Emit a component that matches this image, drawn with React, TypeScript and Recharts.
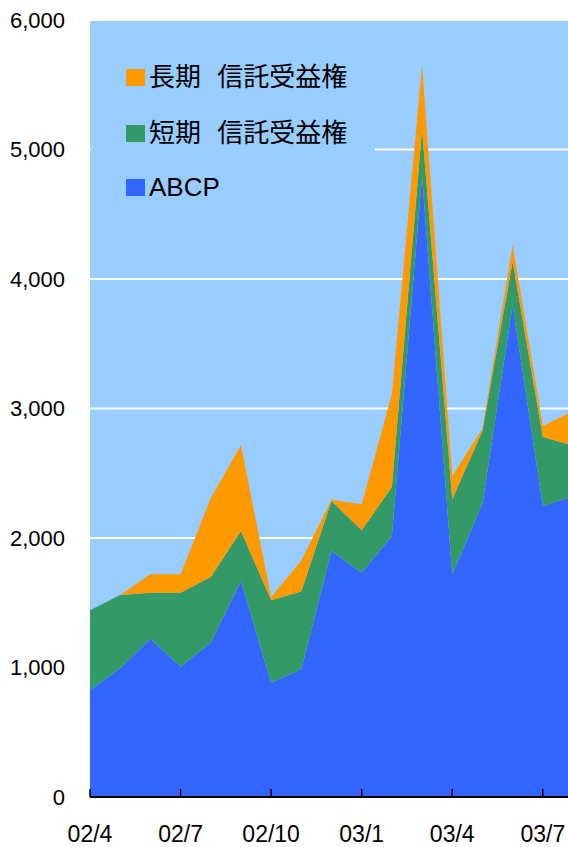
import { AreaChart, Area, XAxis, YAxis, CartesianGrid } from "recharts";

// monthly outstanding balances, 02/4 through 03/8
const months = [
  "02/4", "02/5", "02/6", "02/7", "02/8", "02/9", "02/10", "02/11", "02/12",
  "03/1", "03/2", "03/3", "03/4", "03/5", "03/6", "03/7", "03/8",
];
const abcp = [824, 994, 1222, 1006, 1192, 1668, 883, 986, 1900, 1732, 2015, 4795, 1720, 2265, 3799, 2245, 2322];
const shortTrust = [618, 566, 356, 572, 507, 386, 636, 600, 386, 327, 379, 361, 579, 561, 335, 535, 391];
const longTrust = [0, 0, 142, 142, 608, 664, 25, 240, 10, 201, 716, 497, 180, 20, 129, 85, 268];
const yTicks = [0, 1000, 2000, 3000, 4000, 5000, 6000];

const ORANGE = "#FF9900";
const GREEN = "#339966";
const BLUE = "#3366FF";
const PLOT_BG = "#99CCFF";

const legendItems = [
  { label: "長期 信託受益権", color: ORANGE, top: 62 },
  { label: "短期 信託受益権", color: GREEN, top: 118 },
  { label: "ABCP", color: BLUE, top: 172 },
];

const data = months.map((month, i) => ({
  month,
  abcp: abcp[i],
  short: shortTrust[i],
  long: longTrust[i],
}));

const axisFont = "'Liberation Sans', Arial, sans-serif";

export default function App() {
  return (
    <div
      style={{
        position: "absolute",
        left: 0,
        top: 0,
        width: 568,
        height: 847,
        overflow: "hidden",
        background: "#fff",
      }}
    >
      <AreaChart
        width={580}
        height={847}
        data={data}
        margin={{ top: 20, right: 7, bottom: 0, left: 0 }}
      >
        <CartesianGrid
          vertical={false}
          stroke="#fff"
          strokeWidth={2}
          fill={PLOT_BG}
          fillOpacity={1}
        />
        <XAxis
          dataKey="month"
          interval={2}
          height={50}
          tickSize={-8}
          tickMargin={37}
          axisLine={{ stroke: "#000", strokeWidth: 2 }}
          tickLine={{ stroke: "#000", strokeWidth: 1.5 }}
          tick={{ fill: "#000", fontSize: 23, fontFamily: axisFont }}
        />
        <YAxis
          width={90}
          domain={[0, 6000]}
          ticks={yTicks}
          axisLine={false}
          tickLine={false}
          tickSize={0}
          tickMargin={25}
          tickFormatter={(v: number) => v.toLocaleString("en-US")}
          tick={{ fill: "#000", fontSize: 22, fontFamily: axisFont }}
        />
        <Area
          type="linear"
          dataKey="abcp"
          stackId="a"
          stroke="none"
          fill={BLUE}
          fillOpacity={1}
          isAnimationActive={false}
        />
        <Area
          type="linear"
          dataKey="short"
          stackId="a"
          stroke="none"
          fill={GREEN}
          fillOpacity={1}
          isAnimationActive={false}
        />
        <Area
          type="linear"
          dataKey="long"
          stackId="a"
          stroke="none"
          fill={ORANGE}
          fillOpacity={1}
          isAnimationActive={false}
        />
      </AreaChart>

      {/* legend box sits over the plot and hides the 5,000 grid line */}
      <div
        style={{
          position: "absolute",
          left: 91,
          top: 48,
          width: 284,
          height: 165,
          background: PLOT_BG,
        }}
      >
        {legendItems.map((item) => (
          <div
            key={item.label}
            style={{
              position: "absolute",
              left: 35,
              top: item.top - 48,
              height: 30,
              display: "flex",
              alignItems: "center",
              whiteSpace: "nowrap",
            }}
          >
            <span
              style={{
                display: "inline-block",
                width: 19,
                height: 17,
                background: item.color,
                marginRight: 4,
              }}
            />
            <span
              style={{
                fontFamily: "'Liberation Sans', 'Noto Sans CJK JP', sans-serif",
                fontSize: 26,
                color: "#000",
                wordSpacing: 9,
                lineHeight: "30px",
              }}
            >
              {item.label}
            </span>
          </div>
        ))}
      </div>
    </div>
  );
}
